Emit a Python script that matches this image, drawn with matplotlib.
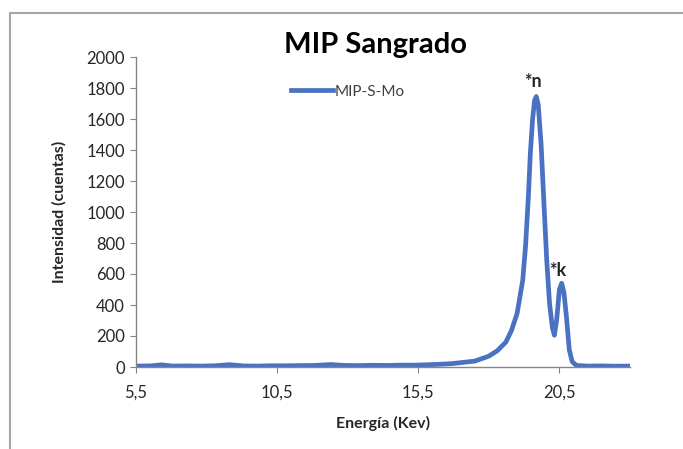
import matplotlib.pyplot as plt
from matplotlib.patches import Rectangle
from matplotlib.ticker import FuncFormatter

# Espectro MIP-S-Mo
energia = [5.5, 6.0, 6.4, 6.8, 7.3, 7.8, 8.3, 8.8, 9.3, 9.8, 10.3, 10.8,
           11.3, 11.8, 12.4, 12.9, 13.4, 13.9, 14.4, 14.9, 15.4, 15.9,
           16.3, 16.7, 17.0, 17.5, 18.0, 18.3, 18.6, 18.8, 19.0, 19.2,
           19.3, 19.4, 19.47, 19.55, 19.62, 19.68, 19.75, 19.85, 19.95,
           20.05, 20.15, 20.25, 20.32, 20.4, 20.5, 20.58, 20.66, 20.75,
           20.85, 20.95, 21.1, 21.5, 22.0, 22.5, 23.0]
cuentas = [6, 7, 14, 6, 7, 6, 8, 15, 7, 6, 8, 8,
           9, 10, 16, 10, 9, 11, 10, 12, 12, 15,
           18, 22, 28, 38, 70, 105, 160, 235, 345, 560,
           780, 1100, 1380, 1600, 1720, 1745, 1690, 1440, 1060,
           690, 410, 255, 205, 300, 500, 540, 480, 320,
           110, 35, 10, 6, 7, 5, 6]

x_ticks = [5.5, 10.5, 15.5, 20.5]
y_ticks = list(range(0, 2001, 200))

plt.rcParams["font.family"] = ["Lato", "DejaVu Sans"]
GRIS = "#868686"
TEXTO = "#262626"

fig = plt.figure(figsize=(6.83, 4.49), dpi=100)
ax = fig.add_axes([136 / 683, 1 - 367 / 449, (630 - 136) / 683, (367 - 57) / 449])

ax.plot(energia, cuentas, color="#4a72c2", lw=3.4, label="MIP-S-Mo", solid_joinstyle="round")

ax.set_xlim(5.5, 23.0)
ax.set_ylim(0, 2000)
ax.set_xticks(x_ticks)
ax.set_yticks(y_ticks)
ax.xaxis.set_major_formatter(FuncFormatter(lambda v, p: f"{v:.1f}".replace(".", ",")))

for s in ["top", "right"]:
    ax.spines[s].set_visible(False)
for s in ["left", "bottom"]:
    ax.spines[s].set_color(GRIS)
    ax.spines[s].set_linewidth(1)
ax.tick_params(axis="both", direction="out", length=4, color=GRIS, labelsize=12, labelcolor=TEXTO)
ax.tick_params(axis="y", pad=4)
ax.tick_params(axis="x", pad=9)

ax.set_xlabel("Energía (Kev)", fontsize=11.5, fontweight="bold", color=TEXTO, labelpad=11)
ax.set_ylabel("Intensidad (cuentas)", fontsize=11.5, fontweight="bold", color=TEXTO, labelpad=14)

fig.text(376 / 683, 1 - 45 / 449, "MIP Sangrado", ha="center", va="center",
         fontsize=21, fontweight="bold", color="black")

ax.legend(loc="upper left", bbox_to_anchor=(0.285, 0.955), frameon=False, fontsize=11,
          handlelength=2.8, handletextpad=0.1, labelcolor="#404040")

ax.text(19.55, 1790, "*n", ha="center", va="bottom", fontsize=13, fontweight="bold", color=TEXTO)
ax.text(20.45, 570, "*k", ha="center", va="bottom", fontsize=13, fontweight="bold", color=TEXTO)

# marco del área del gráfico
fig.patches.append(Rectangle((10 / 683, -0.1), 1.2, 1.1 - 13 / 449, transform=fig.transFigure,
                             fill=False, edgecolor="#a6a6a6", lw=1.5))

fig.savefig("out.png", dpi=100)
